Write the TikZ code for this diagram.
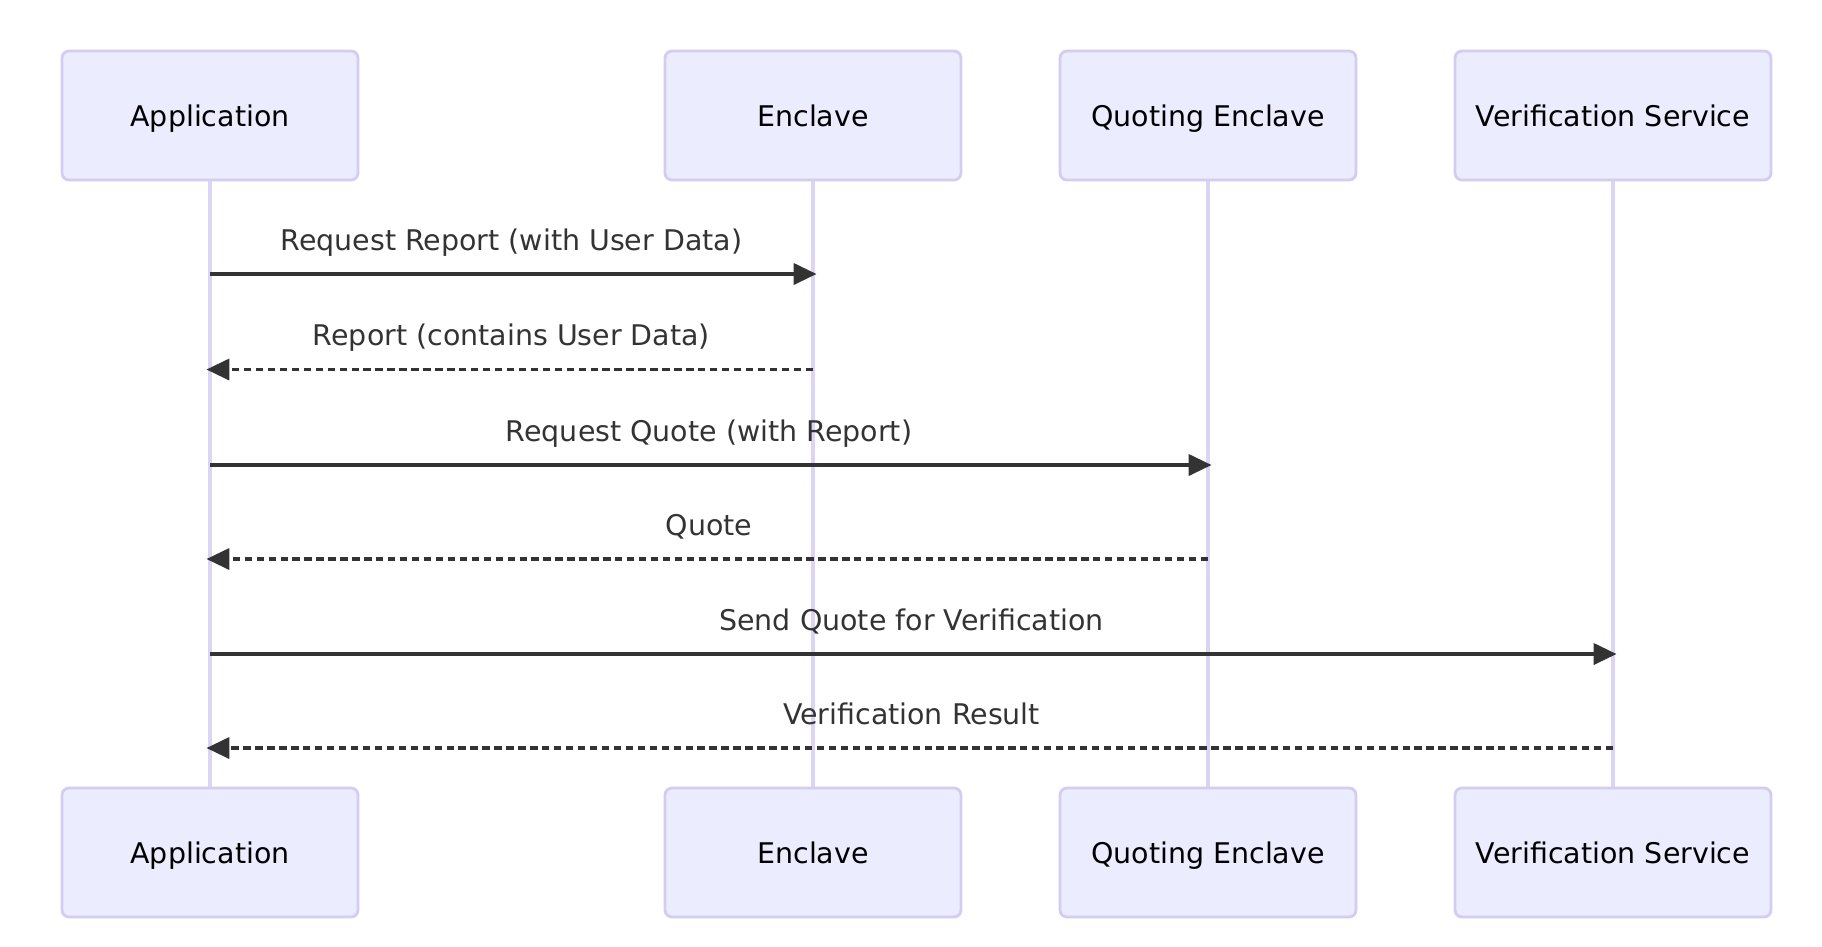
\documentclass[tikz,border=0pt]{standalone}
\usepackage{fontspec}
\setmainfont{DejaVu Sans}
\usetikzlibrary{arrows.meta,positioning,calc}
\definecolor{cACT}{HTML}{ECECFF}
\definecolor{cEDG}{HTML}{D5CCF2}
\definecolor{cLIF}{HTML}{DCD4F4}
\definecolor{cMSG}{HTML}{333333}

\begin{document}
\begin{tikzpicture}[y=-1cm, font=\fontsize{8.1}{10}\selectfont, >={Triangle[length=6.5pt,width=6pt]},
  actor/.style={draw=cEDG, fill=cACT, line width=0.8pt, rounded corners=2pt, minimum height=1.29cm,
    text height=1.6ex, text depth=0.45ex, align=center},
  life/.style={draw=cLIF, line width=1pt},
  msg/.style={->, draw=cMSG, line width=0.95pt, shorten >=-1pt},
  reply/.style={msg, dash pattern=on 2.1pt off 1.3pt},
  lbl/.style={text=cMSG, text height=1.6ex, text depth=0.45ex, yshift=0.35cm}]
\useasboundingbox (0,0) rectangle (18.22,9.46);
% actors, top and bottom
\node[actor, minimum width=2.96cm] (appT) at (2.10,1.155) {Application};
\node[actor, minimum width=2.96cm] (encT) at (8.13,1.155) {Enclave};
\node[actor, minimum width=2.96cm] (qeT) at (12.08,1.155) {Quoting Enclave};
\node[actor, minimum width=3.16cm] (vsT) at (16.13,1.155) {Verification Service};
\node[actor, minimum width=2.96cm] (appB) at (2.10,8.525) {Application};
\node[actor, minimum width=2.96cm] (encB) at (8.13,8.525) {Enclave};
\node[actor, minimum width=2.96cm] (qeB) at (12.08,8.525) {Quoting Enclave};
\node[actor, minimum width=3.16cm] (vsB) at (16.13,8.525) {Verification Service};
% lifelines
\foreach \p in {app,enc,qe,vs}
  \draw[life] (\p T) -- (\p B);
% message rows
\coordinate (r1) at (0,2.74);
\coordinate (r2) at (0,3.695);
\coordinate (r3) at (0,4.65);
\coordinate (r4) at (0,5.59);
\coordinate (r5) at (0,6.54);
\coordinate (r6) at (0,7.48);
\draw[msg] (appT |- r1) -- node[lbl] {Request Report (with User Data)} (encT |- r1);
\draw[reply] (encT |- r2) -- node[lbl] {Report (contains User Data)} (appT |- r2);
\draw[msg] (appT |- r3) -- node[lbl] {Request Quote (with Report)} (qeT |- r3);
\draw[reply] (qeT |- r4) -- node[lbl] {Quote} (appT |- r4);
\draw[msg] (appT |- r5) -- node[lbl] {Send Quote for Verification} (vsT |- r5);
\draw[reply] (vsT |- r6) -- node[lbl] {Verification Result} (appT |- r6);
\end{tikzpicture}
\end{document}
